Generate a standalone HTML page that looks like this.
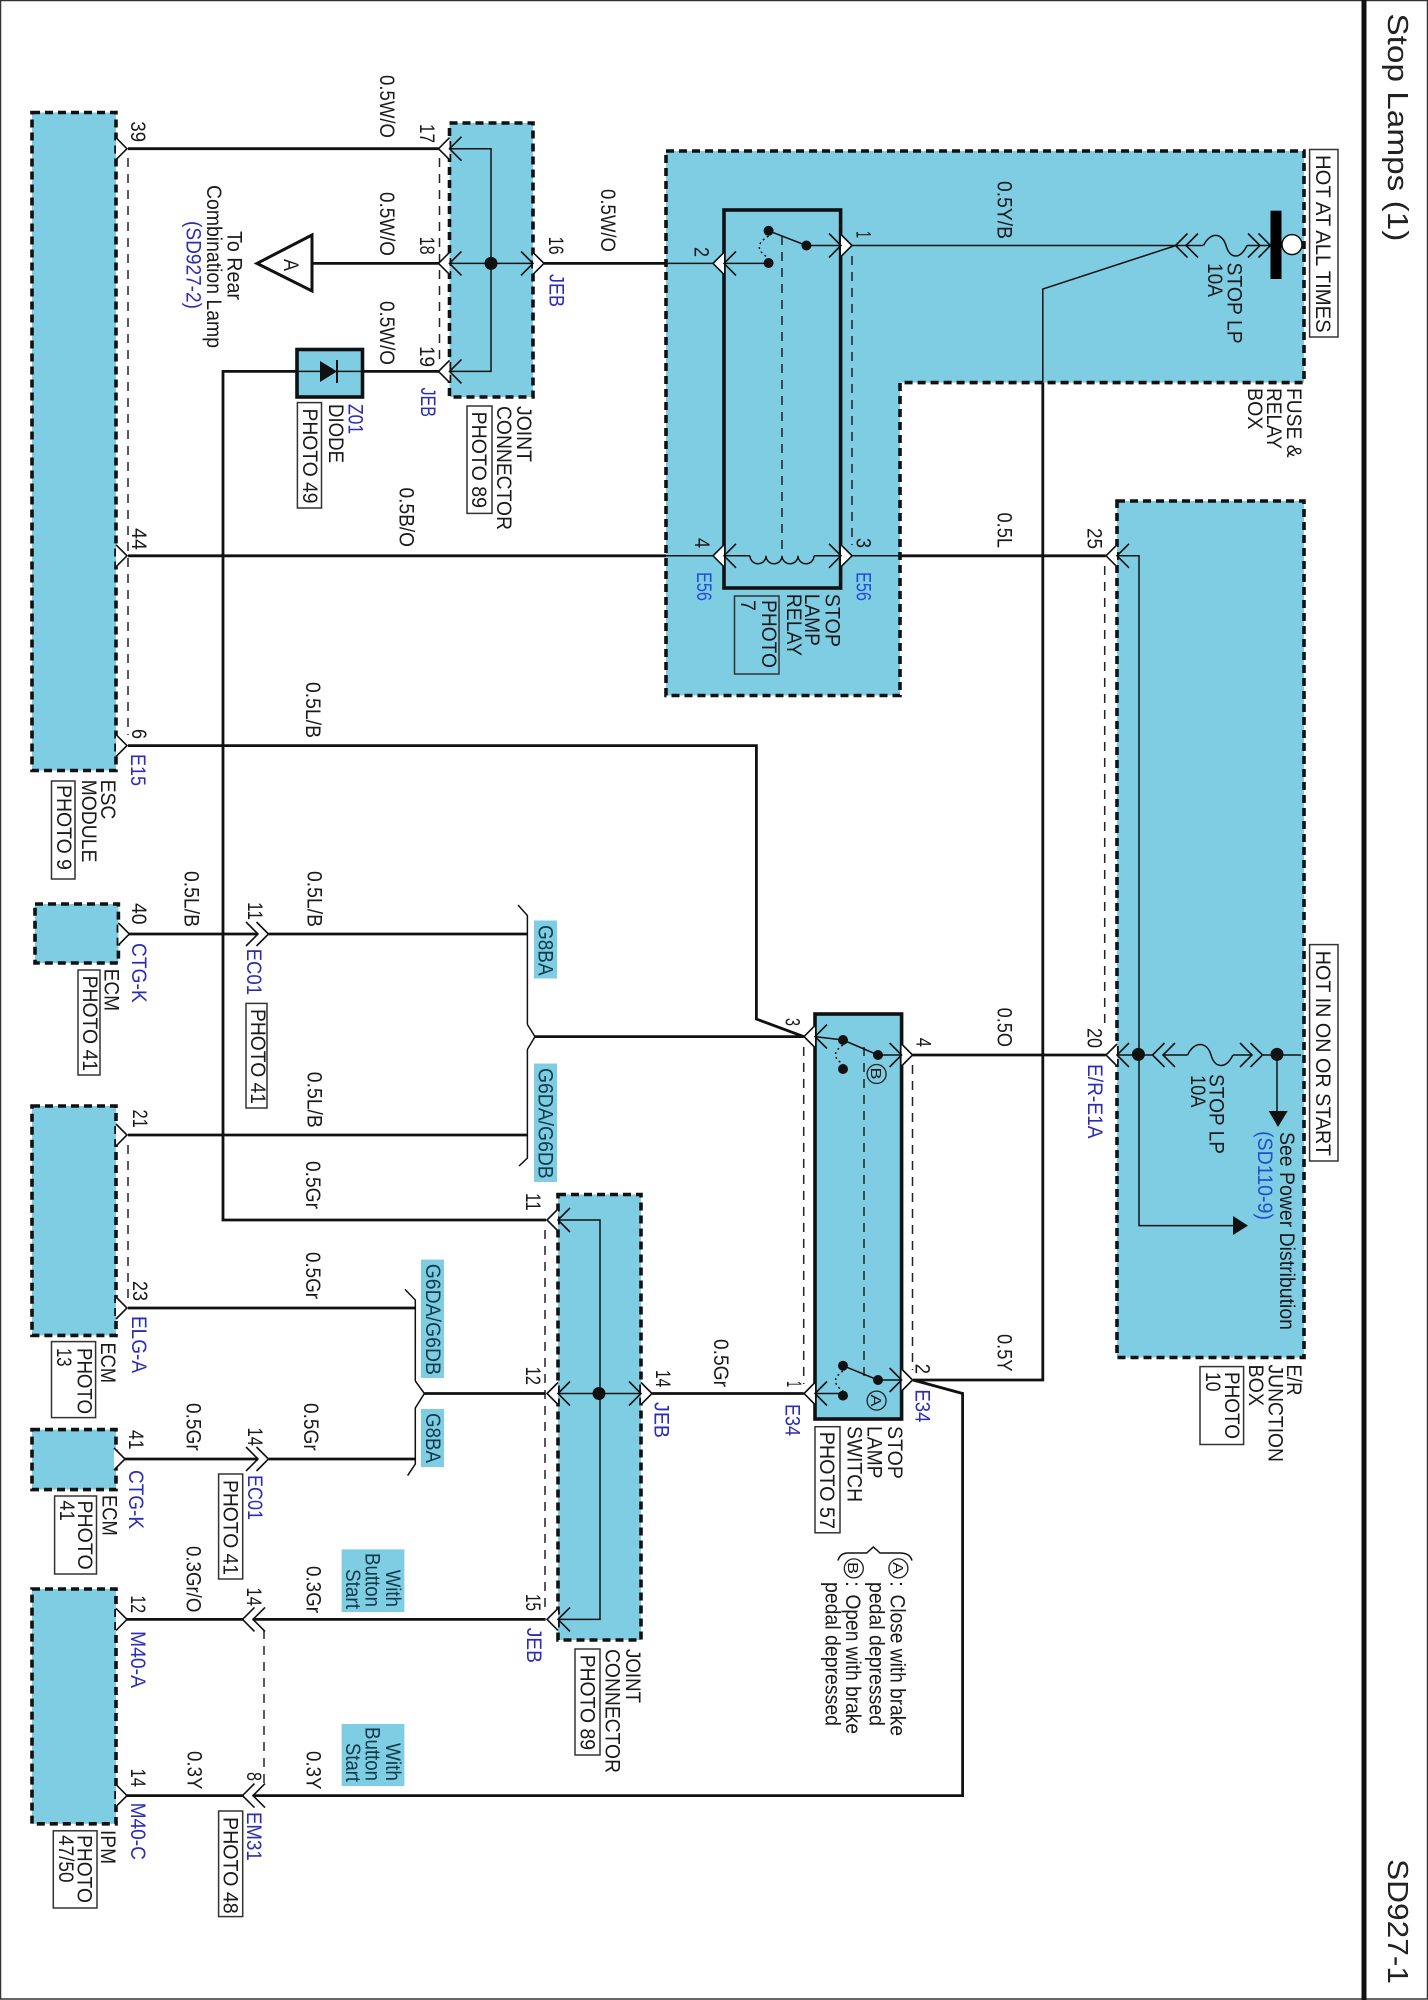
<!DOCTYPE html>
<html><head><meta charset="utf-8"><title>Stop Lamps (1)</title>
<style>
html,body{margin:0;padding:0;background:#fff;width:1428px;height:2000px;overflow:hidden}
svg{display:block}
text{font-family:"Liberation Sans",sans-serif;font-size:21px;fill:#1a1a1a}
.b{fill:#2c2cb4}
.b2{fill:#2050d0}
.c{fill:#0f3a4a}
.t{font-size:29px;fill:#222}
.box{fill:#7fcde3;stroke:#111;stroke-width:3.6;stroke-dasharray:8 5}
.chip{fill:#7fcde3}
.ph{fill:#fff;stroke:#333;stroke-width:1.5}
.w{fill:none;stroke:#111;stroke-width:2.8}
.n{fill:none;stroke:#111;stroke-width:1.5}
.d{fill:none;stroke:#222;stroke-width:1.5;stroke-dasharray:9 7}
.s{fill:#111}
</style></head><body>
<svg width="1428" height="2000" viewBox="0 0 1428 2000" xmlns="http://www.w3.org/2000/svg">
<defs>
<polyline id="o" points="0,-11 11,0 0,11" fill="#fff" stroke="#111" stroke-width="1.6"/>
<polyline id="i" points="-12,-12 0,0 -12,12" fill="none" stroke="#111" stroke-width="1.6"/>
<g id="dd"><polyline points="-12,-12 0,0 -12,12" fill="none" stroke="#111" stroke-width="1.6"/><polyline points="-1.5,-12 10.5,0 -1.5,12" fill="none" stroke="#111" stroke-width="1.6"/></g>
</defs>
<rect width="1428" height="2000" fill="#fff"/>
<!-- frame -->
<rect x="0.5" y="0.5" width="1427" height="1998.5" fill="none" stroke="#333" stroke-width="1.5"/>
<rect x="1361.5" y="0" width="5" height="2000" fill="#111"/>
<!-- boxes -->
<rect class="box" x="32" y="112.5" width="84" height="658"/>
<rect class="box" x="449.5" y="123" width="83.5" height="274"/>
<path class="box" d="M666 151H1304V382.6H900V695.5H666Z"/>
<rect class="box" x="1117" y="501" width="187" height="856.5"/>
<rect class="box" x="35" y="904" width="83.4" height="59"/>
<rect class="box" x="32" y="1106" width="84" height="229.4"/>
<rect class="box" x="558" y="1194.5" width="83" height="445.5"/>
<rect class="box" x="32" y="1429.6" width="84" height="60"/>
<rect class="box" x="32" y="1589" width="84" height="234.8"/>
<rect x="815" y="1014" width="86.6" height="405" fill="#7fcde3" stroke="#111" stroke-width="3.6"/>
<rect x="297" y="349.5" width="65.5" height="47.5" fill="#7fcde3" stroke="#111" stroke-width="3.6"/>
<rect x="724" y="210" width="116.6" height="378" fill="none" stroke="#111" stroke-width="3.6"/>
<!-- chips -->
<rect class="chip" x="534" y="920.5" width="23" height="58"/>
<rect class="chip" x="534" y="1063.5" width="23" height="118.5"/>
<rect class="chip" x="421" y="1259.6" width="23" height="118.4"/>
<rect class="chip" x="421" y="1409" width="23" height="58"/>
<rect class="chip" x="341.6" y="1549.4" width="62.8" height="62.6"/>
<rect class="chip" x="341.6" y="1724" width="62.8" height="62"/>
<!-- dashed -->
<path class="d" d="M128 158V735M128 1145V1298M439.5 158V361M545 1230V1610M852 256V545M782 236V556M864 1047V1380M803.7 1047V1384M912.5 1065V1370M264 1630V1786M1104.7 566V1027"/>
<!-- thick wires -->
<path class="w" d="M128 148.7H439.5M312 263.4H439.5M362.5 371.4H439.5M297 371.4H223V1220H546M544 263.4H666M128 555.8H666M900 555.8H1105.6M128 745.6H756.4V1019L803.7 1036.6M128 934H258M268.7 934H527M128 1135H527M535 1036.6H803.7M128 1308H415M424.4 1393.5H545.6M651 1393.5H803.7M125 1459H258M268.7 1459H415.3M125 1619.4H243M252.7 1619.4H545.6M125 1795.6H243M252.7 1795.6H962.6V1393.5L913 1380M912.5 1055H1105.6M1042.8 382.6V1380H913"/>
<!-- thin wires -->
<path class="n" d="M852 245.5H1176M1176 245.5L1042.8 289V382.6M666 263.4H769M666 555.8H750M814 555.8H900M449.5 148.7H491V371.4H449.5M449.5 263.4H533M297 371.4H362.5M558 1220H600V1619.4H558M558 1393.5H641M1117 555.8H1139V1225.6H1235M1117 1055H1152M1162.6 1055H1187.6M1233 1055H1251M1263 1055H1301M1277 1054V1112M806.4 245.5H840M815 1036.6L843 1040M878 1055H901M815 1393.5H843M878 1380H901M1203 245.5H1176M1247 245.5H1270"/>
<path class="n" d="M750 555.8a8 8 0 0 0 16 0a8 8 0 0 0 16 0a8 8 0 0 0 16 0a8 8 0 0 0 16 0"/>
<path class="n" d="M1203.5 245.5C1210 232 1222 232 1226 245.5S1240 260 1247 245.5"/>
<path class="n" d="M1187.6 1055C1194 1041 1207 1041 1211 1055S1226 1069 1233 1055"/>
<path class="n" d="M527.4 1024.5V915.5L518 905M527.4 1024.5L535 1036.6L527.4 1049.4V1158L519 1166M415.3 1381V1300L405 1289.4M415.3 1381L424.4 1393.5L415.3 1408V1464L407.6 1475.6"/>
<path class="n" d="M838 1560.6Q840 1553 848 1553H866.6L873.4 1547L880 1553H900Q910 1553 912 1560.6"/>
<!-- relay and switch contacts -->
<path class="n" d="M806.4 245.5L768.6 230.8M878 1055L843 1040M878 1380L843 1365.7"/>
<path class="n" d="M768.6 236Q750 247 768.6 258M843 1045Q828 1055 843 1064M843 1371Q828 1381 843 1391" style="stroke-dasharray:2 3"/>
<circle class="s" cx="768.6" cy="230.8" r="5"/><circle class="s" cx="806.4" cy="245.5" r="5"/><circle class="s" cx="768.6" cy="263" r="5"/>
<circle class="s" cx="843" cy="1040" r="5"/><circle class="s" cx="878" cy="1055" r="5"/><circle class="s" cx="843" cy="1069" r="5"/>
<circle class="s" cx="843" cy="1365.7" r="5"/><circle class="s" cx="878" cy="1380" r="5"/><circle class="s" cx="843" cy="1395.6" r="5"/>
<circle class="s" cx="491" cy="263.4" r="6.5"/><circle class="s" cx="599" cy="1393.5" r="6.5"/>
<circle class="s" cx="1138.4" cy="1054.4" r="6.5"/><circle class="s" cx="1277" cy="1054.4" r="6.5"/>
<!-- bus bar -->
<rect x="1270.5" y="210.7" width="11" height="68.3" fill="#000"/>
<circle cx="1292" cy="244.6" r="10" fill="#fff" stroke="#111" stroke-width="1.5"/>
<!-- arrows -->
<polygon class="s" points="1233,1216 1248,1225.6 1233,1235"/>
<polygon class="s" points="1268.7,1111 1287.7,1111 1278,1127"/>
<!-- triangle A -->
<polygon points="257,263.4 312,235 312,291" fill="#fff" stroke="#111" stroke-width="3"/>
<!-- diode -->
<polygon class="s" points="320,361 320,382 337,371.4"/><rect x="336" y="360" width="2" height="23" fill="#111"/>
<!-- circles -->
<g fill="none" stroke="#222" stroke-width="1.3"><circle cx="876.6" cy="1074" r="9.5"/><circle cx="876.6" cy="1400.6" r="9.5"/><circle cx="898.4" cy="1568.4" r="9.5"/><circle cx="853.8" cy="1568.4" r="9.5"/></g>
<!-- pin markers -->
<use href="#o" transform="translate(116 148.7)"/><use href="#o" transform="translate(116 555.8)"/><use href="#o" transform="translate(116 745.6)"/>
<use href="#o" transform="translate(118.4 934)"/><use href="#o" transform="translate(116 1135)"/><use href="#o" transform="translate(116 1308)"/>
<use href="#o" transform="translate(114 1459)"/><use href="#o" transform="translate(116 1619.4)"/><use href="#o" transform="translate(116 1795.6)"/>
<use href="#o" transform="translate(449.5 148.7) scale(-1 1)"/><use href="#i" transform="translate(449.5 148.7) scale(-1 1)"/>
<use href="#o" transform="translate(449.5 263.4) scale(-1 1)"/><use href="#i" transform="translate(449.5 263.4) scale(-1 1)"/>
<use href="#o" transform="translate(449.5 371.4) scale(-1 1)"/><use href="#i" transform="translate(449.5 371.4) scale(-1 1)"/>
<use href="#o" transform="translate(533 263.4)"/><use href="#i" transform="translate(533 263.4)"/>
<use href="#o" transform="translate(724 263.4) scale(-1 1)"/><use href="#i" transform="translate(724 263.4) scale(-1 1)"/>
<use href="#o" transform="translate(724 555.8) scale(-1 1)"/><use href="#i" transform="translate(724 555.8) scale(-1 1)"/>
<use href="#o" transform="translate(841 245.5)"/><use href="#i" transform="translate(841 245.5)"/>
<use href="#o" transform="translate(841 555.8)"/><use href="#i" transform="translate(841 555.8)"/>
<use href="#o" transform="translate(1117 555.8) scale(-1 1)"/><use href="#i" transform="translate(1117 555.8) scale(-1 1)"/>
<use href="#o" transform="translate(1117 1055) scale(-1 1)"/><use href="#i" transform="translate(1117 1055) scale(-1 1)"/>
<use href="#o" transform="translate(815 1036.6) scale(-1 1)"/><use href="#i" transform="translate(815 1036.6) scale(-1 1)"/>
<use href="#o" transform="translate(815 1393.5) scale(-1 1)"/><use href="#i" transform="translate(815 1393.5) scale(-1 1)"/>
<use href="#o" transform="translate(901.6 1055)"/><use href="#i" transform="translate(901.6 1055)"/>
<use href="#o" transform="translate(901.6 1380)"/><use href="#i" transform="translate(901.6 1380)"/>
<use href="#o" transform="translate(558 1220) scale(-1 1)"/><use href="#i" transform="translate(558 1220) scale(-1 1)"/>
<use href="#o" transform="translate(558 1393.5) scale(-1 1)"/><use href="#i" transform="translate(558 1393.5) scale(-1 1)"/>
<use href="#o" transform="translate(558 1619.4) scale(-1 1)"/><use href="#i" transform="translate(558 1619.4) scale(-1 1)"/>
<use href="#o" transform="translate(641 1393.5)"/><use href="#i" transform="translate(641 1393.5)"/>
<use href="#dd" transform="translate(258 934)"/><use href="#dd" transform="translate(258 1459)"/>
<use href="#dd" transform="translate(253 1619.4) scale(-1 1)"/><use href="#dd" transform="translate(253 1795.6) scale(-1 1)"/>
<use href="#dd" transform="translate(1186 245.5) scale(-1 1)"/><use href="#dd" transform="translate(1260 245.5)"/>
<use href="#dd" transform="translate(1163 1055) scale(-1 1)"/><use href="#dd" transform="translate(1252 1055)"/>
<!-- photo boxes -->
<g>
<rect class="ph" x="297.4" y="402.6" width="24.1" height="105.4"/>
<rect class="ph" x="467" y="406" width="25" height="107.4"/>
<rect class="ph" x="734.5" y="596" width="44.5" height="78" style="fill:none"/>
<rect class="ph" x="1309.6" y="149.5" width="28.4" height="187.5"/>
<rect class="ph" x="51.5" y="781" width="23.5" height="98"/>
<rect class="ph" x="78" y="970" width="22" height="105"/>
<rect class="ph" x="246" y="1003.4" width="21" height="104.6"/>
<rect class="ph" x="51.5" y="1341.6" width="44.1" height="76"/>
<rect class="ph" x="54.6" y="1496" width="41.9" height="78"/>
<rect class="ph" x="218.6" y="1474" width="24.1" height="105"/>
<rect class="ph" x="575" y="1649" width="25" height="106"/>
<rect class="ph" x="53.3" y="1830.8" width="43.7" height="77.2"/>
<rect class="ph" x="218.6" y="1811" width="24.1" height="105.6"/>
<rect class="ph" x="815" y="1426.7" width="25" height="106.1"/>
<rect class="ph" x="1200" y="1366.6" width="43.6" height="77.9"/>
<rect class="ph" x="1309.6" y="944.6" width="28.4" height="216.4"/>
</g>
<!-- text: rotated 90deg; x = page Y, y = -page X -->
<g transform="rotate(90)">
<text class="t" x="13.4" y="-1388" textLength="228" lengthAdjust="spacingAndGlyphs">Stop Lamps (1)</text>
<text class="t" x="1859" y="-1388" textLength="125" lengthAdjust="spacingAndGlyphs">SD927-1</text>

<text x="75" y="-380" textLength="63" lengthAdjust="spacingAndGlyphs">0.5W/O</text>
<text x="192" y="-380" textLength="64" lengthAdjust="spacingAndGlyphs">0.5W/O</text>
<text x="301" y="-380" textLength="64" lengthAdjust="spacingAndGlyphs">0.5W/O</text>
<text x="189" y="-601" textLength="63" lengthAdjust="spacingAndGlyphs">0.5W/O</text>
<text x="487.5" y="-399.4" textLength="59.5" lengthAdjust="spacingAndGlyphs">0.5B/O</text>
<text x="121.4" y="-131" textLength="20.6" lengthAdjust="spacingAndGlyphs">39</text>
<text x="528" y="-132" textLength="22" lengthAdjust="spacingAndGlyphs">44</text>
<text x="124" y="-420" textLength="19" lengthAdjust="spacingAndGlyphs">17</text>
<text x="236.6" y="-420" textLength="18" lengthAdjust="spacingAndGlyphs">18</text>
<text x="346" y="-420" textLength="21" lengthAdjust="spacingAndGlyphs">19</text>
<text x="236.6" y="-549" textLength="18" lengthAdjust="spacingAndGlyphs">16</text>
<text class="b" x="274" y="-549.7" textLength="33" lengthAdjust="spacingAndGlyphs">JEB</text>
<text class="b" x="387.5" y="-421" textLength="29.5" lengthAdjust="spacingAndGlyphs">JEB</text>
<text x="247" y="-694.5" textLength="10" lengthAdjust="spacingAndGlyphs">2</text>
<text x="538" y="-695" textLength="10" lengthAdjust="spacingAndGlyphs">4</text>
<text class="b2" x="572" y="-697" textLength="29" lengthAdjust="spacingAndGlyphs">E56</text>
<text x="231" y="-227.7" textLength="69" lengthAdjust="spacingAndGlyphs">To Rear</text>
<text x="185" y="-207" textLength="163" lengthAdjust="spacingAndGlyphs">Combination Lamp</text>
<text class="b" x="221" y="-186.7" textLength="88" lengthAdjust="spacingAndGlyphs">(SD927-2)</text>
<text x="259" y="-284" textLength="12" lengthAdjust="spacingAndGlyphs">A</text>
<text class="b" x="404" y="-348.4" textLength="30" lengthAdjust="spacingAndGlyphs">Z01</text>
<text x="404" y="-329" textLength="59" lengthAdjust="spacingAndGlyphs">DIODE</text>
<text x="408.5" y="-303" textLength="95" lengthAdjust="spacingAndGlyphs">PHOTO 49</text>
<text x="406" y="-517" textLength="56" lengthAdjust="spacingAndGlyphs">JOINT</text>
<text x="406" y="-497" textLength="124" lengthAdjust="spacingAndGlyphs">CONNECTOR</text>
<text x="411.6" y="-472" textLength="96.4" lengthAdjust="spacingAndGlyphs">PHOTO 89</text>

<text x="231" y="-856.5" textLength="7" lengthAdjust="spacingAndGlyphs">1</text>
<text x="538" y="-856.5" textLength="10" lengthAdjust="spacingAndGlyphs">3</text>
<text class="b2" x="572" y="-856.5" textLength="29" lengthAdjust="spacingAndGlyphs">E56</text>
<text x="181" y="-997.7" textLength="58" lengthAdjust="spacingAndGlyphs">0.5Y/B</text>
<text x="512.5" y="-997.7" textLength="35.5" lengthAdjust="spacingAndGlyphs">0.5L</text>
<text x="262.5" y="-1227.7" textLength="81.2" lengthAdjust="spacingAndGlyphs">STOP LP</text>
<text x="263" y="-1208" textLength="34" lengthAdjust="spacingAndGlyphs">10A</text>
<text x="155" y="-1316" textLength="177.6" lengthAdjust="spacingAndGlyphs">HOT AT ALL TIMES</text>
<text x="388" y="-1287" textLength="69.6" lengthAdjust="spacingAndGlyphs">FUSE &amp;</text>
<text x="388" y="-1267" textLength="61" lengthAdjust="spacingAndGlyphs">RELAY</text>
<text x="388" y="-1248" textLength="41.4" lengthAdjust="spacingAndGlyphs">BOX</text>
<text x="528" y="-1087.4" textLength="21" lengthAdjust="spacingAndGlyphs">25</text>
<text x="593.7" y="-825.6" textLength="53.3" lengthAdjust="spacingAndGlyphs">STOP</text>
<text x="593.7" y="-805" textLength="52.3" lengthAdjust="spacingAndGlyphs">LAMP</text>
<text x="593.7" y="-787" textLength="62.3" lengthAdjust="spacingAndGlyphs">RELAY</text>
<text x="600" y="-762" textLength="68" lengthAdjust="spacingAndGlyphs">PHOTO</text>
<text x="600" y="-741" textLength="11" lengthAdjust="spacingAndGlyphs">7</text>

<text x="682" y="-306" textLength="56" lengthAdjust="spacingAndGlyphs">0.5L/B</text>
<text x="729" y="-132" textLength="10" lengthAdjust="spacingAndGlyphs">6</text>
<text class="b" x="754" y="-131" textLength="32" lengthAdjust="spacingAndGlyphs">E15</text>
<text x="779.6" y="-101" textLength="39.8" lengthAdjust="spacingAndGlyphs">ESC</text>
<text x="779.6" y="-82" textLength="82.9" lengthAdjust="spacingAndGlyphs">MODULE</text>
<text x="785" y="-57" textLength="85" lengthAdjust="spacingAndGlyphs">PHOTO 9</text>
<text x="903" y="-132" textLength="21.6" lengthAdjust="spacingAndGlyphs">40</text>
<text class="b" x="943" y="-132" textLength="59.6" lengthAdjust="spacingAndGlyphs">CTG-K</text>
<text x="968.6" y="-104.7" textLength="42.4" lengthAdjust="spacingAndGlyphs">ECM</text>
<text x="975.6" y="-83" textLength="95.4" lengthAdjust="spacingAndGlyphs">PHOTO 41</text>
<text x="871" y="-184.4" textLength="56" lengthAdjust="spacingAndGlyphs">0.5L/B</text>
<text x="902" y="-248" textLength="18" lengthAdjust="spacingAndGlyphs">11</text>
<text class="b" x="948.7" y="-247" textLength="46.3" lengthAdjust="spacingAndGlyphs">EC01</text>
<text x="1009" y="-251" textLength="95" lengthAdjust="spacingAndGlyphs">PHOTO 41</text>
<text x="871" y="-307.4" textLength="56" lengthAdjust="spacingAndGlyphs">0.5L/B</text>
<text class="c" x="925" y="-538.7" textLength="50.6" lengthAdjust="spacingAndGlyphs">G8BA</text>
<text class="c" x="1068" y="-538.7" textLength="110.7" lengthAdjust="spacingAndGlyphs">G6DA/G6DB</text>
<text x="1071.8" y="-307.4" textLength="56" lengthAdjust="spacingAndGlyphs">0.5L/B</text>
<text x="1109.5" y="-133" textLength="18.3" lengthAdjust="spacingAndGlyphs">21</text>
<text x="1161" y="-306" textLength="48" lengthAdjust="spacingAndGlyphs">0.5Gr</text>
<text x="1193" y="-526" textLength="17.7" lengthAdjust="spacingAndGlyphs">11</text>
<text x="1252" y="-306" textLength="47" lengthAdjust="spacingAndGlyphs">0.5Gr</text>
<text class="c" x="1263.7" y="-426" textLength="111.3" lengthAdjust="spacingAndGlyphs">G6DA/G6DB</text>
<text x="1281" y="-133" textLength="20" lengthAdjust="spacingAndGlyphs">23</text>
<text class="b" x="1316" y="-132" textLength="57" lengthAdjust="spacingAndGlyphs">ELG-A</text>

<text x="1342.5" y="-101" textLength="40.5" lengthAdjust="spacingAndGlyphs">ECM</text>
<text x="1348" y="-77.4" textLength="66" lengthAdjust="spacingAndGlyphs">PHOTO</text>
<text x="1348" y="-57" textLength="18.6" lengthAdjust="spacingAndGlyphs">13</text>
<text x="1366.6" y="-526" textLength="18.4" lengthAdjust="spacingAndGlyphs">12</text>
<text x="1370" y="-655.8" textLength="17.3" lengthAdjust="spacingAndGlyphs">14</text>
<text class="b" x="1402" y="-654.4" textLength="36" lengthAdjust="spacingAndGlyphs">JEB</text>
<text class="c" x="1413" y="-426" textLength="50" lengthAdjust="spacingAndGlyphs">G8BA</text>
<text x="1403" y="-186.7" textLength="47.7" lengthAdjust="spacingAndGlyphs">0.5Gr</text>
<text x="1403" y="-304" textLength="47.7" lengthAdjust="spacingAndGlyphs">0.5Gr</text>
<text x="1430" y="-129" textLength="19.5" lengthAdjust="spacingAndGlyphs">41</text>
<text x="1427.5" y="-248" textLength="18.5" lengthAdjust="spacingAndGlyphs">14</text>
<text class="b" x="1475" y="-248" textLength="45" lengthAdjust="spacingAndGlyphs">EC01</text>
<text class="b" x="1470" y="-129" textLength="59" lengthAdjust="spacingAndGlyphs">CTG-K</text>
<text x="1495" y="-102.5" textLength="40.7" lengthAdjust="spacingAndGlyphs">ECM</text>
<text x="1500.5" y="-78" textLength="69.2" lengthAdjust="spacingAndGlyphs">PHOTO</text>
<text x="1500.5" y="-60" textLength="20.3" lengthAdjust="spacingAndGlyphs">41</text>
<text x="1480" y="-223.6" textLength="95" lengthAdjust="spacingAndGlyphs">PHOTO 41</text>
<text x="1546" y="-186.7" textLength="66.4" lengthAdjust="spacingAndGlyphs">0.3Gr/O</text>
<text x="1566" y="-306.5" textLength="47" lengthAdjust="spacingAndGlyphs">0.3Gr</text>
<text class="c" x="1569.7" y="-386" textLength="37.3" lengthAdjust="spacingAndGlyphs">With</text>
<text class="c" x="1553" y="-365.7" textLength="54" lengthAdjust="spacingAndGlyphs">Button</text>
<text class="c" x="1569" y="-346" textLength="40" lengthAdjust="spacingAndGlyphs">Start</text>
<text class="c" x="1743" y="-386" textLength="38" lengthAdjust="spacingAndGlyphs">With</text>
<text class="c" x="1727" y="-365.7" textLength="54" lengthAdjust="spacingAndGlyphs">Button</text>
<text class="c" x="1743" y="-346" textLength="39" lengthAdjust="spacingAndGlyphs">Start</text>
<text x="1751" y="-187.6" textLength="38.4" lengthAdjust="spacingAndGlyphs">0.3Y</text>
<text x="1751" y="-306.5" textLength="38.4" lengthAdjust="spacingAndGlyphs">0.3Y</text>
<text x="1595.4" y="-131" textLength="17.6" lengthAdjust="spacingAndGlyphs">12</text>
<text x="1587.5" y="-247" textLength="18.5" lengthAdjust="spacingAndGlyphs">14</text>
<text x="1594" y="-526" textLength="17" lengthAdjust="spacingAndGlyphs">15</text>
<text class="b" x="1627.7" y="-527" textLength="35.3" lengthAdjust="spacingAndGlyphs">JEB</text>
<text x="1649" y="-626" textLength="54" lengthAdjust="spacingAndGlyphs">JOINT</text>
<text x="1649" y="-605.7" textLength="124" lengthAdjust="spacingAndGlyphs">CONNECTOR</text>
<text x="1654.7" y="-580.6" textLength="95.3" lengthAdjust="spacingAndGlyphs">PHOTO 89</text>
<text class="b" x="1631" y="-131" textLength="57" lengthAdjust="spacingAndGlyphs">M40-A</text>
<text x="1768.6" y="-131" textLength="18.4" lengthAdjust="spacingAndGlyphs">14</text>
<text x="1772" y="-247" textLength="9" lengthAdjust="spacingAndGlyphs">8</text>
<text class="b" x="1812" y="-247" textLength="48.7" lengthAdjust="spacingAndGlyphs">EM31</text>
<text x="1817" y="-223.6" textLength="96.7" lengthAdjust="spacingAndGlyphs">PHOTO 48</text>
<text class="b" x="1802.6" y="-131" textLength="57.4" lengthAdjust="spacingAndGlyphs">M40-C</text>
<text x="1830" y="-101" textLength="34" lengthAdjust="spacingAndGlyphs">IPM</text>
<text x="1835" y="-77.4" textLength="68" lengthAdjust="spacingAndGlyphs">PHOTO</text>
<text x="1835" y="-59" textLength="47.6" lengthAdjust="spacingAndGlyphs">47/50</text>

<text x="1074" y="-1209.5" textLength="80" lengthAdjust="spacingAndGlyphs">STOP LP</text>
<text x="1075" y="-1191" textLength="32.5" lengthAdjust="spacingAndGlyphs">10A</text>
<text x="1132" y="-1280" textLength="198" lengthAdjust="spacingAndGlyphs">See Power Distribution</text>
<text class="b2" x="1131" y="-1258" textLength="89" lengthAdjust="spacingAndGlyphs">(SD110-9)</text>
<text x="950.8" y="-1316" textLength="205.2" lengthAdjust="spacingAndGlyphs">HOT IN ON OR START</text>
<text x="1028" y="-1087.4" textLength="20" lengthAdjust="spacingAndGlyphs">20</text>
<text class="b" x="1064" y="-1088" textLength="74.5" lengthAdjust="spacingAndGlyphs">E/R-E1A</text>
<text x="1007.6" y="-997.7" textLength="39.4" lengthAdjust="spacingAndGlyphs">0.5O</text>
<text x="1037.8" y="-916.6" textLength="9.2" lengthAdjust="spacingAndGlyphs">4</text>
<text x="1018" y="-785.5" textLength="8" lengthAdjust="spacingAndGlyphs">3</text>
<text x="1067.5" y="-871" style="font-size:15px" textLength="12" lengthAdjust="spacingAndGlyphs">B</text>
<text x="1394.5" y="-871" style="font-size:15px" textLength="12" lengthAdjust="spacingAndGlyphs">A</text>
<text x="1562" y="-893" style="font-size:15px" textLength="12" lengthAdjust="spacingAndGlyphs">A</text>
<text x="1562" y="-848" style="font-size:15px" textLength="12" lengthAdjust="spacingAndGlyphs">B</text>
<text x="1363.7" y="-915.7" textLength="10.3" lengthAdjust="spacingAndGlyphs">2</text>
<text x="1381" y="-787" textLength="6" lengthAdjust="spacingAndGlyphs">1</text>
<text class="b" x="1389.4" y="-915.7" textLength="33.1" lengthAdjust="spacingAndGlyphs">E34</text>
<text class="b" x="1404" y="-785.5" textLength="32" lengthAdjust="spacingAndGlyphs">E34</text>
<text x="1334" y="-997.7" textLength="37.6" lengthAdjust="spacingAndGlyphs">0.5Y</text>
<text x="1339" y="-714" textLength="48" lengthAdjust="spacingAndGlyphs">0.5Gr</text>
<text x="1426" y="-888" textLength="53" lengthAdjust="spacingAndGlyphs">STOP</text>
<text x="1426" y="-867.5" textLength="52.5" lengthAdjust="spacingAndGlyphs">LAMP</text>
<text x="1426" y="-847.4" textLength="76" lengthAdjust="spacingAndGlyphs">SWITCH</text>
<text x="1431.7" y="-820" textLength="97.3" lengthAdjust="spacingAndGlyphs">PHOTO 57</text>
<text x="1581" y="-890.7" textLength="6" lengthAdjust="spacingAndGlyphs">:</text>
<text x="1594.5" y="-890.7" textLength="141.5" lengthAdjust="spacingAndGlyphs">Close with brake</text>
<text x="1582" y="-869.7" textLength="144" lengthAdjust="spacingAndGlyphs">pedal depressed</text>
<text x="1581" y="-846" textLength="6" lengthAdjust="spacingAndGlyphs">:</text>
<text x="1594.5" y="-846" textLength="139.5" lengthAdjust="spacingAndGlyphs">Open with brake</text>
<text x="1582" y="-825.6" textLength="144" lengthAdjust="spacingAndGlyphs">pedal depressed</text>
<text x="1364.5" y="-1287" textLength="31" lengthAdjust="spacingAndGlyphs">E/R</text>
<text x="1364.5" y="-1268.7" textLength="97.5" lengthAdjust="spacingAndGlyphs">JUNCTION</text>
<text x="1364.5" y="-1249" textLength="41.5" lengthAdjust="spacingAndGlyphs">BOX</text>
<text x="1372" y="-1225" textLength="67" lengthAdjust="spacingAndGlyphs">PHOTO</text>
<text x="1372" y="-1206" textLength="19.5" lengthAdjust="spacingAndGlyphs">10</text>
</g>
</svg>
</body></html>
